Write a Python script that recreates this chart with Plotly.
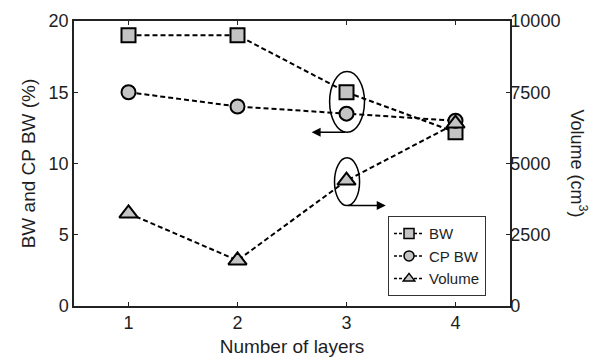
import plotly.graph_objects as go

layers = [1, 2, 3, 4]
bw = [19, 19, 15, 12.2]
cp_bw = [15, 14, 13.5, 13]
volume = [3250, 1600, 4400, 6400]

FONT = "Liberation Sans, Arial, sans-serif"
fill = "#c4c4c4"
DASH = "5px,3px"
TXT = "#1e1e1e"

fig = go.Figure()
line = dict(color="black", width=2, dash=DASH)
markers = {
    "BW": dict(symbol="square", size=14),
    "CP BW": dict(symbol="circle", size=14),
    "Volume": dict(symbol="triangle-up", size=16),
}
fig.add_trace(go.Scatter(x=layers, y=bw, name="BW", mode="lines+markers", line=line, showlegend=False,
                         marker=dict(**markers["BW"], color=fill, line=dict(color="black", width=2))))
fig.add_trace(go.Scatter(x=layers, y=cp_bw, name="CP BW", mode="lines+markers", line=line, showlegend=False,
                         marker=dict(**markers["CP BW"], color=fill, line=dict(color="black", width=2))))
fig.add_trace(go.Scatter(x=layers, y=volume, name="Volume", yaxis="y2", mode="lines+markers", line=line,
                         showlegend=False,
                         marker=dict(**markers["Volume"], color=fill, line=dict(color="black", width=2))))

# legend entries (smaller markers, as in the reference legend)
for nm, sym in [("BW", "square"), ("CP BW", "circle"), ("Volume", "triangle-up")]:
    fig.add_trace(go.Scatter(x=[None], y=[None], name=nm, mode="lines+markers",
                             line=dict(color="black", width=1.5, dash="3px,2px"),
                             marker=dict(symbol=sym, size=10, color=fill, line=dict(color="black", width=1.5))))

# ellipses and arrows
fig.add_shape(type="circle", xref="x", yref="y", x0=2.845, x1=3.165, y0=12.2, y1=16.45,
              line=dict(color="black", width=1.5))
fig.add_shape(type="circle", xref="x", yref="y", x0=2.89, x1=3.12, y0=7.05, y1=10.4,
              line=dict(color="black", width=1.5))
fig.add_annotation(x=2.68, y=12.2, ax=3.0, ay=12.2, xref="x", yref="y", axref="x", ayref="y",
                   showarrow=True, arrowhead=2, arrowsize=1.2, arrowwidth=1.5, arrowcolor="black", text="")
fig.add_annotation(x=3.36, y=7.05, ax=3.0, ay=7.05, xref="x", yref="y", axref="x", ayref="y",
                   showarrow=True, arrowhead=2, arrowsize=1.2, arrowwidth=1.5, arrowcolor="black", text="")

fig.add_annotation(x=1.0, xref="paper", xshift=68, xanchor="center", y=0.5, yref="paper",
                   text="Volume (cm<sup>3</sup>)",
                   textangle=90, showarrow=False, font=dict(size=18, color=TXT))

axis_common = dict(showline=True, linecolor="#222", linewidth=1.5, ticks="inside", ticklen=4,
                   tickcolor="#222", showgrid=False, zeroline=False, automargin=False,
                   tickfont=dict(size=18, color=TXT))

fig.update_layout(
    width=592, height=358,
    margin=dict(l=74, r=82, t=21, b=52),
    paper_bgcolor="white", plot_bgcolor="white",
    font=dict(family=FONT, size=18, color=TXT),
    showlegend=True,
    legend=dict(x=0.945, y=0.175, xanchor="right", yanchor="middle", bordercolor="#333", borderwidth=1,
                bgcolor="white", font=dict(size=15, color=TXT), itemwidth=30, tracegroupgap=0),
    xaxis=dict(range=[0.5, 4.5], tickvals=[1, 2, 3, 4], mirror="ticks",
               title=dict(text="Number of layers", font=dict(size=19, color=TXT), standoff=7), **axis_common),
    yaxis=dict(range=[0, 20], tickvals=[0, 5, 10, 15, 20],
               title=dict(text="BW and CP BW (%)", font=dict(size=19, color=TXT), standoff=8), **axis_common),
    yaxis2=dict(range=[0, 10000], tickvals=[0, 2500, 5000, 7500, 10000], tickformat="d",
                overlaying="y", side="right", ticklabelstandoff=-5, **axis_common),
)

fig.write_html("out.html")
